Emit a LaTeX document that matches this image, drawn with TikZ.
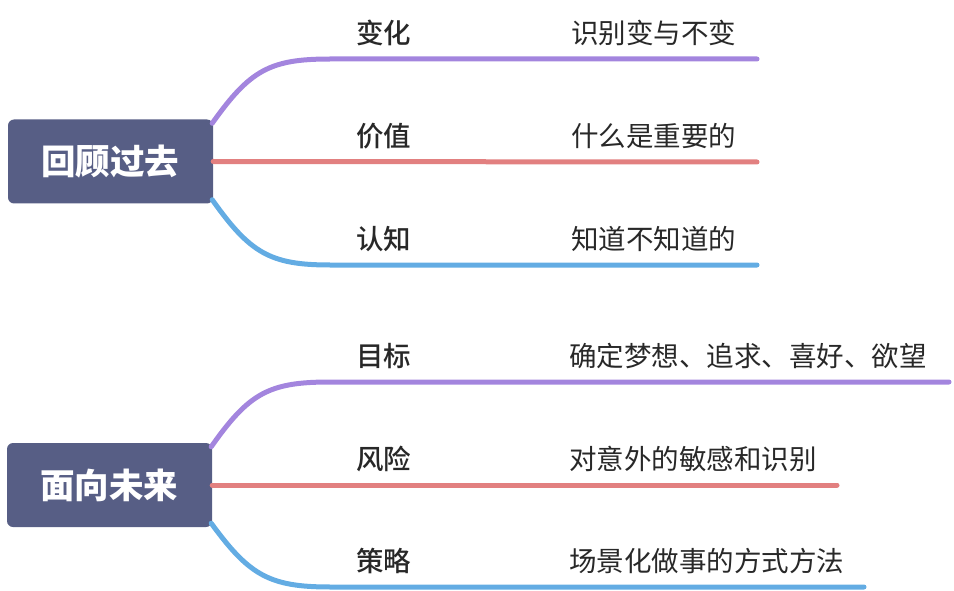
\documentclass[tikz,border=0pt]{standalone}
\usepackage{fontspec}
\setmainfont{Noto Sans CJK SC}
\newfontfamily\mediumcjk{Noto Sans CJK SC Medium}
\usetikzlibrary{positioning}
\definecolor{rootfill}{RGB}{87,94,133}
\definecolor{lilac}{RGB}{163,133,222}
\definecolor{rose}{RGB}{226,128,128}
\definecolor{sky}{RGB}{99,172,227}
\definecolor{ink}{RGB}{40,40,40}

\begin{document}
\begin{tikzpicture}[x=1pt,y=-1pt,
    root/.style = {fill=rootfill, rounded corners=6pt, minimum width=205pt, minimum height=84pt,
                   text=white, font=\fontsize{34.5}{36}\selectfont\bfseries},
    topic/.style = {inner sep=0pt, anchor=west, text=ink, font=\fontsize{27.5}{30}\selectfont\mediumcjk},
    note/.style = {topic, font=\fontsize{27.5}{30}\selectfont},
    branch/.style = {line width=5pt, line cap=round}]
\useasboundingbox (0,0) rectangle (954,591);

% past
\node[root] (past) at (110.5,161.5) {回顾过去};
\coordinate (p1) at (330,59);   \coordinate (p1e) at (757,59);
\coordinate (p2) at (330,162);  \coordinate (p2e) at (757,162);
\coordinate (p3) at (330,265);  \coordinate (p3e) at (757,265);
\draw[branch,lilac] (past.north east) ++(-1,4) coordinate (p1s)
    .. controls (250,70) and (270,59) .. (p1) -- (p1e);
\draw[branch,rose] (past.east) -- (p2e);
\draw[branch,sky] (past.south east) ++(-1,-4) coordinate (p3s)
    .. controls (250,253) and (270,265) .. (p3) -- (p3e);
\node[topic] (change) at (356,33) {变化};
\node[note] (changenote) at (571,33) {识别变与不变};
\node[topic] (value) at (356,136) {价值};
\node[note] (valuenote) at (571,136) {什么是重要的};
\node[topic] (sense) at (356,239) {认知};
\node[note] (sensenote) at (571,239) {知道不知道的};

% future
\node[root] (future) at (109.5,485) {面向未来};
\coordinate (f1) at (330,382);  \coordinate (f1e) at (949,382);
\coordinate (f2) at (330,485);  \coordinate (f2e) at (837,485);
\coordinate (f3) at (330,587);  \coordinate (f3e) at (864,587);
\draw[branch,lilac] (future.north east) ++(-1,4) coordinate (f1s)
    .. controls (249,393) and (269,382) .. (f1) -- (f1e);
\draw[branch,rose] (future.east) -- (f2e);
\draw[branch,sky] (future.south east) ++(-1,-4) coordinate (f3s)
    .. controls (249,575) and (269,587) .. (f3) -- (f3e);
\node[topic] (goal) at (356,356) {目标};
\node[note] (goalnote) at (569,356) {确定梦想、追求、喜好、欲望};
\node[topic] (risk) at (356,459) {风险};
\node[note] (risknote) at (569,459) {对意外的敏感和识别};
\node[topic] (plan) at (356,561) {策略};
\node[note] (plannote) at (569,561) {场景化做事的方式方法};
\end{tikzpicture}
\end{document}
